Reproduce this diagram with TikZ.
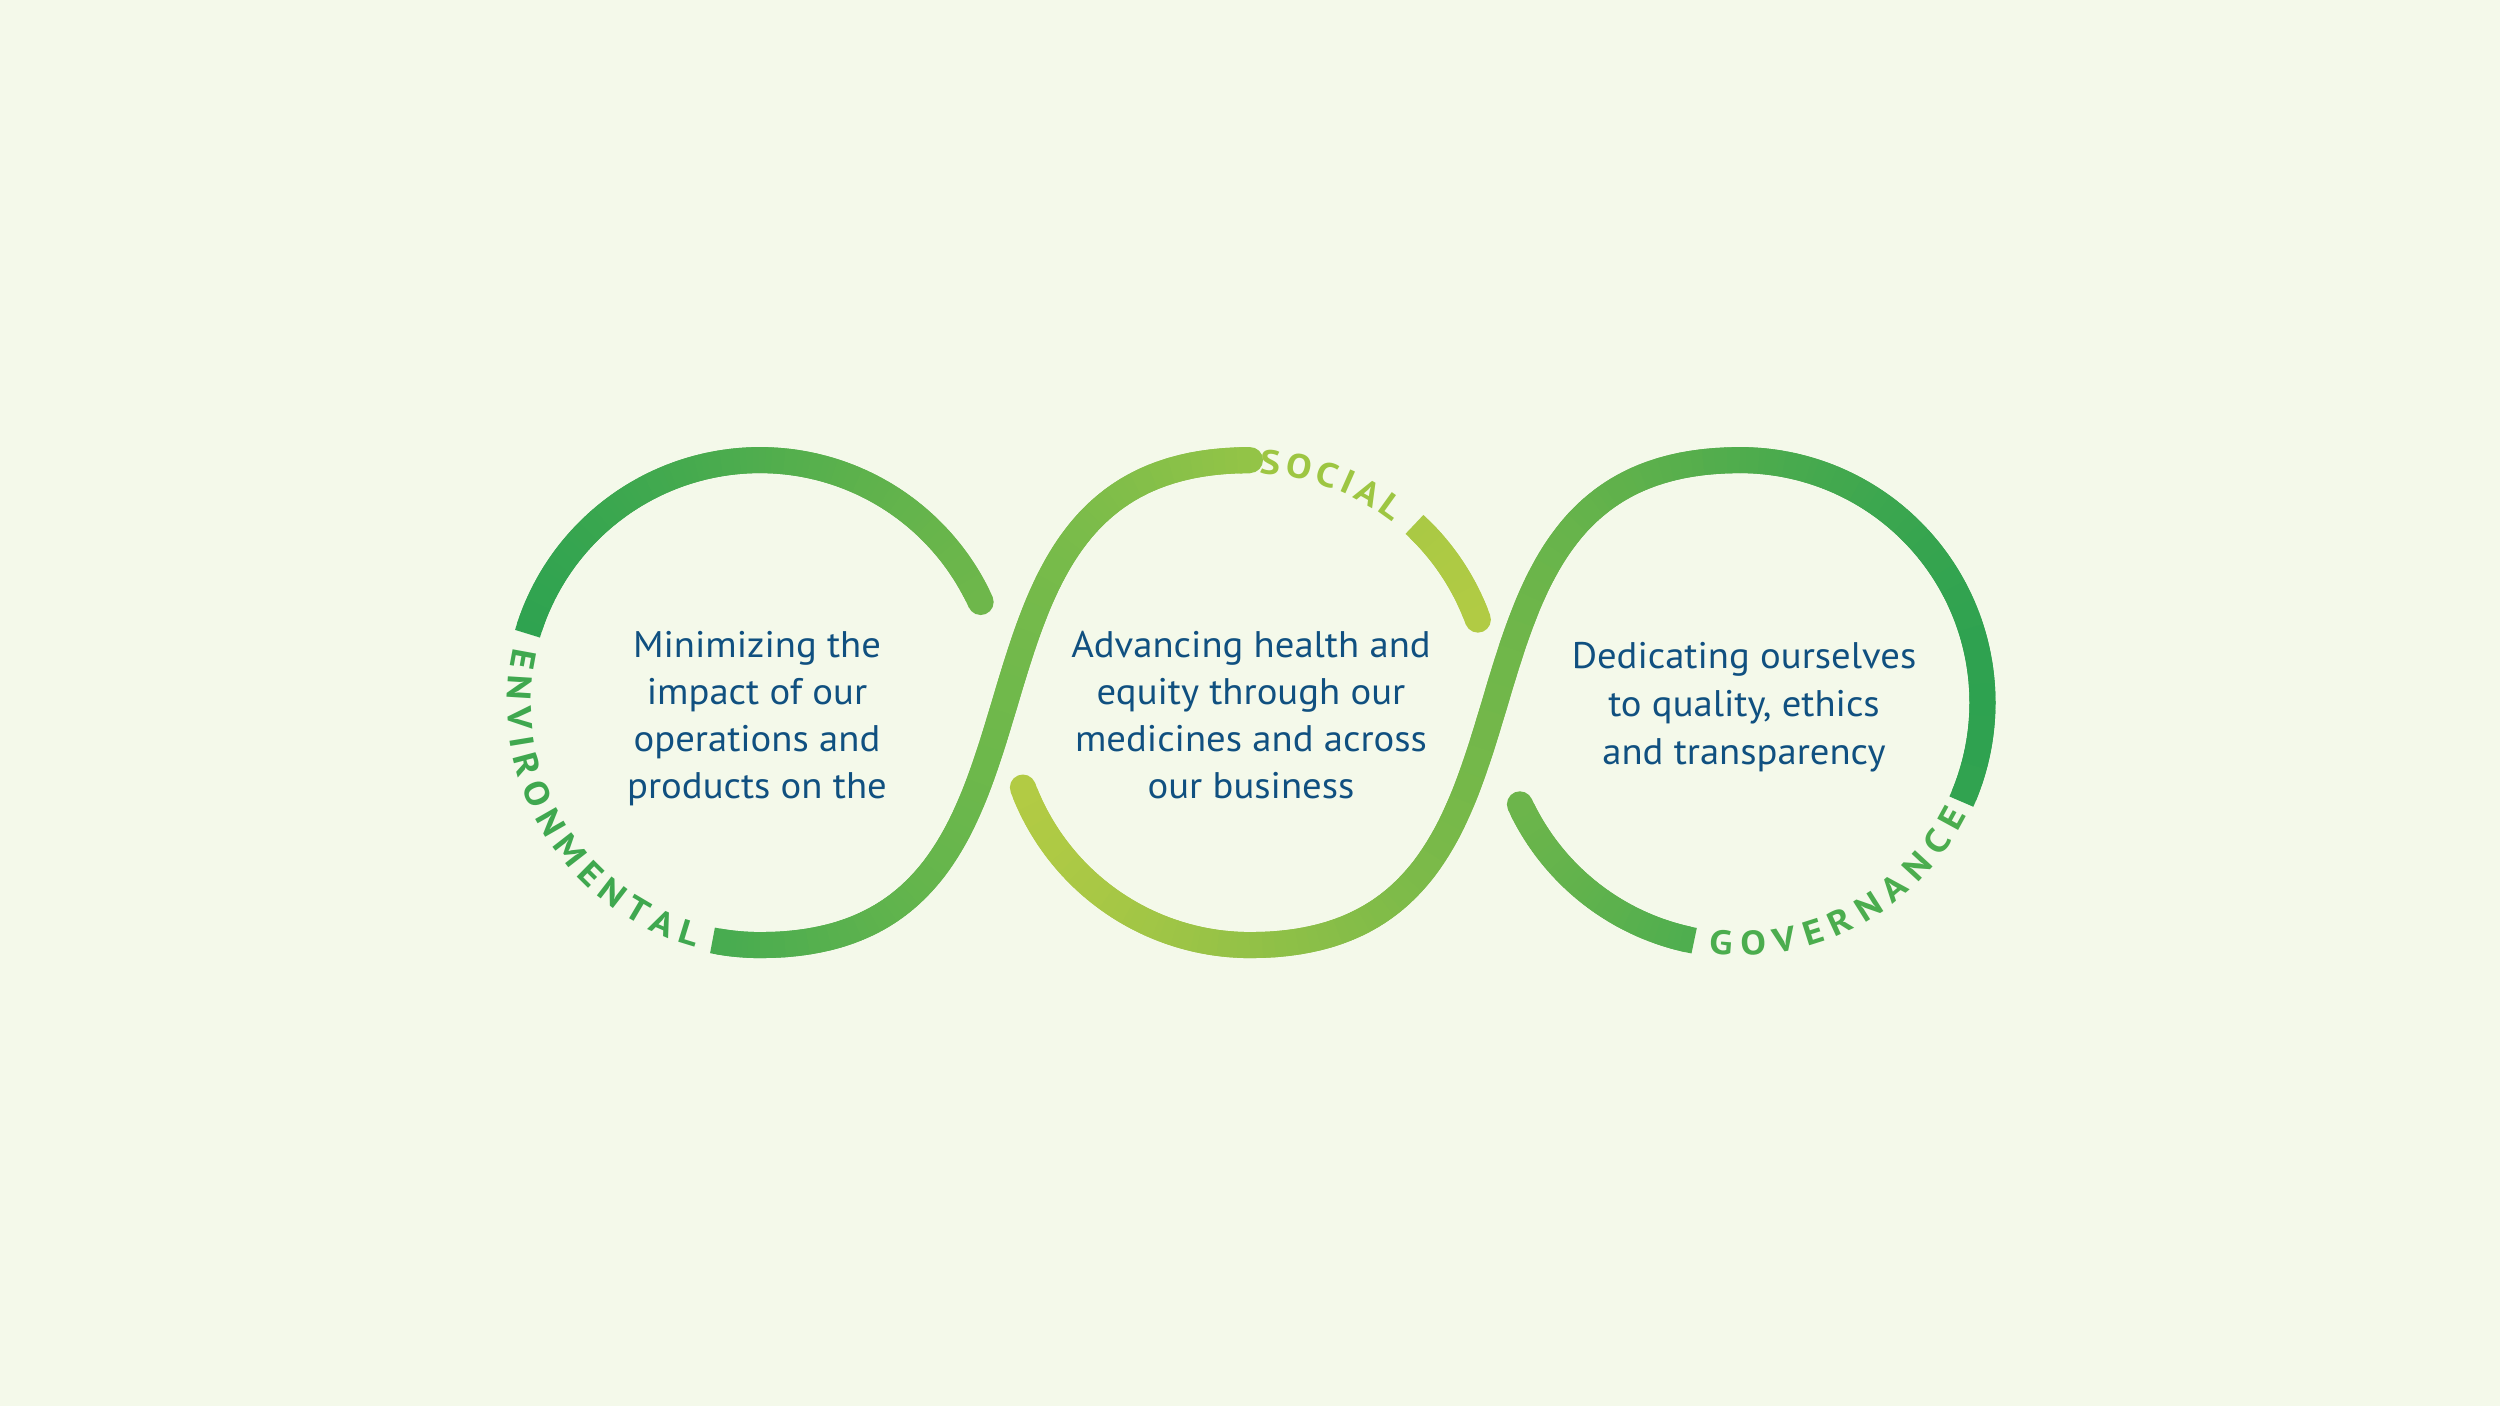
\documentclass[tikz,border=0pt]{standalone}
\usepackage{fontspec}
\newfontfamily\bodyfont{PT Sans}[FakeStretch=1.045]
\newfontfamily\labfam{PT Sans}[FakeStretch=1.12]
\usetikzlibrary{calc}
\definecolor{bg}{HTML}{F4F9EA}
\definecolor{txt}{HTML}{105080}
\definecolor{cA1}{HTML}{2FA350}\definecolor{cA2}{HTML}{6EB74B}
\definecolor{cB1}{HTML}{46AB50}\definecolor{cB2}{HTML}{93C447}
\definecolor{cC1}{HTML}{A9C944}\definecolor{cC2}{HTML}{B1CB44}
\definecolor{cD1}{HTML}{B2CB44}\definecolor{cD2}{HTML}{2EA250}
\definecolor{cE1}{HTML}{6CB54B}\definecolor{cE2}{HTML}{4EAE4F}
\definecolor{labEnv}{HTML}{3FA84F}
\definecolor{labSoc}{HTML}{9DC642}
\definecolor{labGov}{HTML}{4BAD4E}
\newcommand\labfont{\labfam\bfseries\fontsize{34pt}{34pt}\selectfont}
\newcount\ptn
\newcommand\addpoint[2]{%
  \global\advance\ptn by 1
  \expandafter\xdef\csname gpx\the\ptn\endcsname{#1}%
  \expandafter\xdef\csname gpy\the\ptn\endcsname{#2}}
% arc: cx cy r a0 a1 firstindex
\newcommand\addarc[6]{%
  \pgfmathtruncatemacro\arcn{max(2,round(abs((#5)-(#4))/1.5))}%
  \foreach \i in {#6,...,\arcn}{%
    \pgfmathsetmacro\angv{(#4)+((#5)-(#4))*\i/\arcn}%
    \pgfmathsetmacro\ppx{(#1)+(#3)*cos(\angv)}%
    \pgfmathsetmacro\ppy{(#2)+(#3)*sin(\angv)}%
    \addpoint{\ppx}{\ppy}}}
% S-bezier with horizontal tangents: x0 y0 x3 y3 k
\newcommand\addbez[5]{%
  \foreach \i in {1,...,80}{%
    \pgfmathsetmacro\bt{\i/80}%
    \pgfmathsetmacro\ua{(1-\bt)^3}%
    \pgfmathsetmacro\ub{3*(1-\bt)^2*\bt}%
    \pgfmathsetmacro\uc{3*(1-\bt)*\bt^2}%
    \pgfmathsetmacro\ud{\bt^3}%
    \pgfmathsetmacro\ppx{\ua*(#1)+\ub*((#1)+(#5))+\uc*((#3)-(#5))+\ud*(#3)}%
    \pgfmathsetmacro\ppy{(\ua+\ub)*(#2)+(\uc+\ud)*(#4)}%
    \addpoint{\ppx}{\ppy}}}
% draw gradient stroke: from to colA xA colB xB
\newcommand\drawpiece[6]{%
  \pgfmathtruncatemacro\lastseg{#2-2}%
  \foreach \i in {#1,...,\lastseg}{%
    \pgfmathtruncatemacro\ja{\i+1}\pgfmathtruncatemacro\jb{\i+2}%
    \edef\xa{\csname gpx\i\endcsname}\edef\ya{\csname gpy\i\endcsname}%
    \edef\xb{\csname gpx\ja\endcsname}\edef\yb{\csname gpy\ja\endcsname}%
    \edef\xc{\csname gpx\jb\endcsname}\edef\yc{\csname gpy\jb\endcsname}%
    \pgfmathsetmacro\fr{(\xb-(#4))/((#6)-(#4))}%
    \pgfmathtruncatemacro\ff{max(0,min(100,\fr*100))}%
    \colorlet{segc}{#5!\ff!#3}%
    \draw[segc,line width=26pt,line join=round,line cap=butt] (\xa,\ya) -- (\xb,\yb) -- (\xc,\yc);}}
\newcommand\capat[2]{%
  \edef\xa{\csname gpx#1\endcsname}\edef\ya{\csname gpy#1\endcsname}%
  \fill[#2] (\xa,\ya) circle[radius=13pt];}
% letters on a circle: name cx cy r afirst alast letters color
\newcommand\arclabel[8]{%
  \begingroup\labfont
  \gdef\sumw{0}\gdef\nlet{0}%
  \foreach \L in {#7}{%
    \pgfmathsetmacro\wl{width("\L")}%
    \ifnum\nlet=0 \xdef\wfirst{\wl}\fi
    \xdef\wlast{\wl}%
    \pgfmathsetmacro\tmp{\sumw+\wl}\xdef\sumw{\tmp}%
    \pgfmathtruncatemacro\tmpn{\nlet+1}\xdef\nlet{\tmpn}}%
  \endgroup
  \pgfmathsetmacro\sgn{((#6)>(#5))*2-1}%
  \pgfmathsetmacro\trk{(abs((#6)-(#5))/180*pi*(#4)-\sumw+0.5*\wfirst+0.5*\wlast)/(\nlet-1)}%
  \pgfmathsetmacro\curtmp{(#5)-\sgn*0.5*\wfirst/(#4)*180/pi}%
  \xdef\cur{\curtmp}%
  \foreach \L [count=\k] in {#7}{%
    \begingroup\labfont\pgfmathsetmacro\wl{width("\L")}\xdef\wlg{\wl}\endgroup
    \pgfmathsetmacro\midang{\cur+\sgn*0.5*\wlg/(#4)*180/pi}%
    \pgfmathsetmacro\rotang{\midang+\sgn*90}%
    \node[arclab,text=#8,rotate=\rotang] (#1-\k) at ({(#2)+(#4)*cos(\midang)},{(#3)+(#4)*sin(\midang)}) {\L};
    \pgfmathsetmacro\nxt{\cur+\sgn*(\wlg+\trk)/(#4)*180/pi}%
    \xdef\cur{\nxt}}}
\begin{document}
\begin{tikzpicture}[x=1pt,y=1pt,
  body/.style={font=\bodyfont\fontsize{37pt}{44pt}\selectfont,text=txt,anchor=base,inner sep=0pt},
  arclab/.style={font=\labfont,anchor=center,inner sep=0pt,text height=23.5pt,text depth=0pt}]
\useasboundingbox (0,0) rectangle (2500,1406);
\fill[bg] (0,0) rectangle (2500,1406);
\global\ptn=0
% piece A: circle 1 top arc
\addarc{760}{703.4}{242.5}{163.5}{24.5}{0}
\xdef\Aend{\the\ptn}
% piece B: circle 1 bottom, S-curve, circle 2 top
\addarc{760}{703.4}{242.5}{258.7}{270}{0}
\addbez{760}{460.9}{1250}{945.9}{345}
\addarc{1250}{703.4}{242.5}{90}{92.5}{1}
\xdef\Bend{\the\ptn}
% piece C: circle 2 right arc
\addarc{1250}{703.4}{242.5}{47.3}{20}{0}
\xdef\Cend{\the\ptn}
% piece D: circle 2 bottom, S-curve, circle 3 top and right
\addarc{1250}{703.4}{242.5}{200.5}{270}{0}
\addbez{1250}{460.9}{1740}{945.9}{345}
\addarc{1740}{703.4}{242.5}{90}{-24.1}{1}
\xdef\Dend{\the\ptn}
% piece E: circle 3 lower-left arc
\addarc{1740}{703.4}{242.5}{204.8}{259.1}{0}
\xdef\Eend{\the\ptn}
\pgfmathtruncatemacro\Bstart{\Aend+1}
\pgfmathtruncatemacro\Cstart{\Bend+1}
\pgfmathtruncatemacro\Dstart{\Cend+1}
\pgfmathtruncatemacro\Estart{\Dend+1}
\drawpiece{1}{\Aend}{cA1}{527}{cA2}{981}
\capat{\Aend}{cA2}
\drawpiece{\Bstart}{\Bend}{cB1}{712}{cB2}{1250}
\drawpiece{\Cstart}{\Cend}{cC1}{1414}{cC2}{1478}
\capat{\Cend}{cC2}
\drawpiece{\Dstart}{\Dend}{cD1}{1023}{cD2}{1982}
\capat{\Dstart}{cD1}
\drawpiece{\Estart}{\Eend}{cE1}{1520}{cE2}{1694}
\capat{\Estart}{cE1}
% body texts
\foreach \s [count=\n] in {Minimizing the,impact of our,operations and,products on the}
  \node[body] (env-t\n) at (757,{748.5-47*(\n-1)}) {\s};
\foreach \s [count=\n] in {Advancing health and,equity through our,medicines and across,our business}
  \node[body] (soc-t\n) at (1251,{748.5-47*(\n-1)}) {\s};
\foreach \s [count=\n] in {Dedicating ourselves,{to quality, ethics},and transparency}
  \node[body] (gov-t\n) at (1744,{737-47.8*(\n-1)}) {\s};
% labels along circles
\arclabel{env}{760}{703.4}{241}{169.6}{252.9}{E,N,V,I,R,O,N,M,E,N,T,A,L}{labEnv}
\arclabel{soc}{1250}{703.4}{241}{85}{54.2}{S,O,C,I,A,L}{labSoc}
\arclabel{gov}{1740}{703.4}{241}{265.5}{331.4}{G,O,V,E,R,N,A,N,C,E}{labGov}
\end{tikzpicture}
\end{document}
